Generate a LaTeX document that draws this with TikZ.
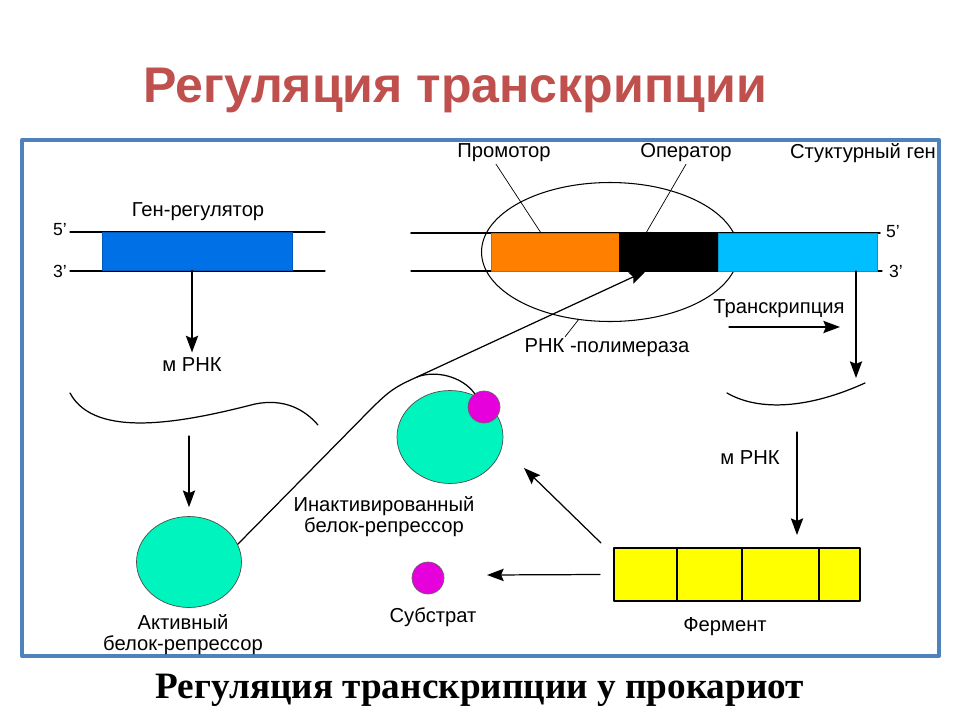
\documentclass[tikz,border=0pt]{standalone}
\usepackage{fontspec}
\setmainfont{Liberation Sans}
\newfontfamily\serifbold{Liberation Serif}
\usetikzlibrary{arrows.meta, positioning, shapes.geometric, calc}

\definecolor{titlered}{RGB}{192,80,77}
\definecolor{frameblue}{RGB}{79,129,189}
\definecolor{genblue}{RGB}{0,112,230}
\definecolor{promorange}{RGB}{255,128,0}
\definecolor{structcyan}{RGB}{0,190,255}
\definecolor{repteal}{RGB}{0,245,190}
\definecolor{submagenta}{RGB}{230,0,220}
\definecolor{fermyellow}{RGB}{255,255,0}

\begin{document}
\begin{tikzpicture}[x=0.02cm, y=-0.02cm, >={Stealth[length=9.5pt,width=7pt,inset=1.5pt]}, line cap=round, line join=round,
  font=\fontsize{11.5}{12}\selectfont,
  lab/.style={inner sep=1pt},
  prime/.style={font=\fontsize{10}{12}\selectfont, inner sep=1pt},
  dnabox/.style={draw=#1!80!black, fill=#1, minimum height=0.76cm, inner sep=0pt, outer sep=0pt},
  protein/.style={draw=black!70, fill=repteal, ellipse, inner sep=0pt},
  ligand/.style={draw=black!60, fill=submagenta, circle, minimum size=0.64cm, inner sep=0pt},
  fermcell/.style={draw=black, line width=0.9pt, fill=fermyellow, minimum height=1.06cm, inner sep=0pt, outer sep=0pt},
  link/.style={line width=0.7pt}]
\fill[white] (0,0) rectangle (960,720);
\useasboundingbox (0,0) rectangle (960,720);
%========================
% title and frame
%========================
\node[font=\bfseries\fontsize{28.5}{31}\selectfont, text=titlered] (title) at (455,90) {Регуляция транскрипции};
\draw[frameblue, line width=2.3pt] (22,140) rectangle (939,656);
\node[font={\serifbold\bfseries\fontsize{21.2}{24}\selectfont}] (subtitle) at (480,690) {Регуляция транскрипции у прокариот};

%========================
% Left: gene-regulator
%========================
\draw[link] (70,232) -- (325,232);
\draw[link] (70,271) -- (325,271);
\node[prime] (r5) at (60,230) {5’};
\node[prime] (r3) at (60,271) {3’};
\node[dnabox=genblue, minimum width=3.8cm] (genreg) at (197,251.5) {};
\node[lab] (genreglab) at (198,212) {Ген-регулятор};
\node[lab] (mrnaL) at (192,365) {м РНК};
\draw[link,->, shorten >=2pt] (mrnaL |- genreg.south) -- (mrnaL.north);

% mRNA strand and active repressor
\draw[link] (70,393) .. controls (95,440) and (185,422) .. (255,404) .. controls (285,398) and (305,410) .. (318,425);
\coordinate (mL) at (189,436);
\node[protein, minimum width=2.1cm, minimum height=1.82cm] (actrep) at (189,562) {};
\draw[link,->, shorten >=0.18cm] (mL) -- (actrep.north);
\node[lab, align=center] (actlab) at (183,635) {Активный\\белок-репрессор};

%========================
% Right: operon
%========================
\node[draw, ellipse, line width=0.6pt, minimum width=5.14cm, minimum height=2.78cm, inner sep=0pt] (rnapol) at (610,252) {};
\draw[line width=1pt] (411,233) -- (880,233);
\draw[link] (411,271) -- (882,271);
\node[dnabox=promorange, minimum width=2.56cm] (promoter) at (555,252) {};
\node[dnabox=black, minimum width=1.98cm, right=0pt of promoter] (operator) {};
\node[dnabox=structcyan, minimum width=3.18cm, right=0pt of operator] (structgene) {};
\node[prime] (o5) at (893,232) {5’};
\node[prime] (o3) at (896,271) {3’};

\node[lab] (promlab) at (504,153) {Промотор};
\node[lab] (oplab) at (686,153) {Оператор};
\node[lab] (structlab) at (863,153) {Стуктурный ген};
\draw[thin] ([xshift=-0.16cm]promlab.south) -- ([xshift=-0.28cm]promoter.north);
\draw[thin] (oplab.south) -- ([xshift=-0.45cm]operator.north);

\node[lab] (pollab) at (607,348) {РНК -полимераза};
\draw[thin] (rnapol.245) -- ([xshift=-0.84cm]pollab.north);

% transcription
\node[lab] (translab) at (779,309) {Транскрипция};
\coordinate (trA) at (729,327);
\coordinate (trB) at (840,327);
\draw[link,->] (trA) -- (trB);
\coordinate (mRtop) at (856,378);
\draw[link,->] (structgene.south -| mRtop) -- (mRtop);
\draw[link] (727,393) .. controls (760,412) and (810,408) .. (865,383);

% translation -> enzyme
\node[lab] (mrnaR) at (750,458) {м РНК};
\coordinate (mR2) at (797,432);
\node[fermcell, minimum width=1.26cm] (f1) at (645.5,574.5) {};
\node[fermcell, minimum width=1.3cm, right=0pt of f1] (f2) {};
\node[fermcell, minimum width=1.54cm, right=0pt of f2] (f3) {};
\node[fermcell, minimum width=0.82cm, right=0pt of f3] (f4) {};
\draw[link,->, shorten >=0.26cm] (mR2) -- (mR2 |- f3.north);
\node[lab] (fermlab) at (725,627) {Фермент};

%========================
% Middle: inactivated repressor and substrate
%========================
\node[protein, minimum width=2.12cm, minimum height=1.86cm] (inrep) at (450,437) {};
\node[ligand] (bound) at (484,407) {};
\node[lab, align=center] (inlab) at (384,517) {Инактивированный\\белок-репрессор};
\node[ligand] (subst) at (428,578) {};
\node[lab] (sublab) at (433,617) {Субстрат};

\coordinate (toInact) at (524,468);
\draw[link,->] ([xshift=-0.26cm,yshift=0.1cm]f1.north west) -- (toInact);
\coordinate (toSub) at (487,575);
\draw[link,->] ([xshift=-0.28cm]f1.west) -- (toSub);

% repressor binds operator
\coordinate (fork) at (417,377);
\draw[link,->] (actrep.20) -- (370,410) .. controls (390,390) and (395,387) .. (fork) -- ([xshift=-0.45cm]operator.south);
\draw[link] (fork) .. controls (435,370) and (462,376) .. (bound.125);
\end{tikzpicture}
\end{document}
